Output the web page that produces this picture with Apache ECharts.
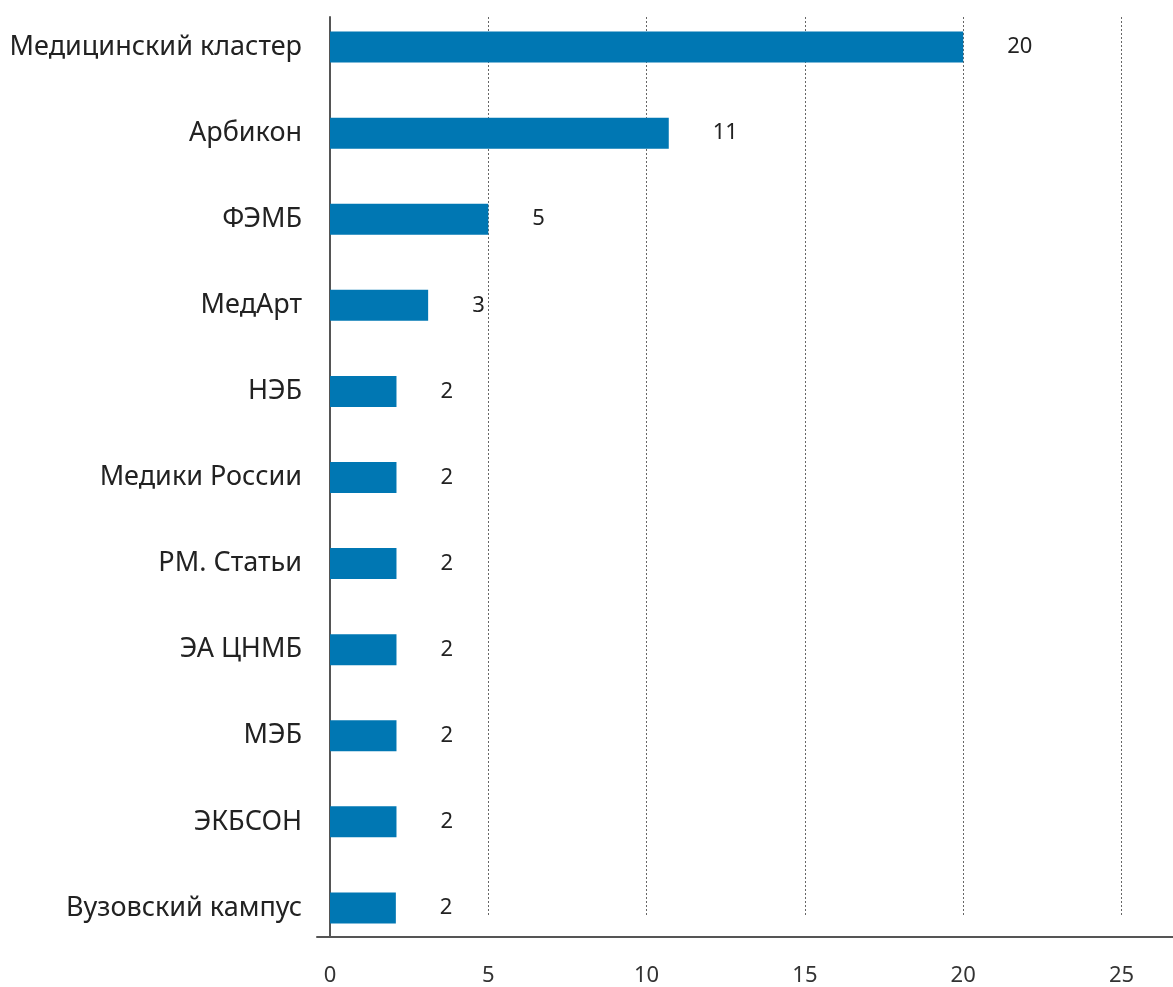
<!DOCTYPE html>
<html>
<head>
<meta charset="utf-8">
<script src="https://cdn.jsdelivr.net/npm/echarts@6/dist/echarts.min.js"></script>
<style>html,body{margin:0;padding:0;background:#fff}#c{width:1173px;height:987px}</style>
</head>
<body>
<div id="c"></div>
<script>
const categories = ['Медицинский кластер','Арбикон','ФЭМБ','МедАрт','НЭБ','Медики России','РМ. Статьи','ЭА ЦНМБ','МЭБ','ЭКБСОН','Вузовский кампус'];
const values = [20, 10.7, 5, 3.1, 2.1, 2.1, 2.1, 2.1, 2.1, 2.1, 2.08];
const tickMin = 0, tickMax = 25, tickStep = 5;

const chart = echarts.init(document.getElementById('c'));
const font = '"Noto Sans", sans-serif';
chart.setOption({
  animation: false,
  grid: [
    {left: 330, right: 51.5, top: 4, height: 947},      // bars
    {left: 330, right: 51.5, top: 17, height: 901},     // gridlines + tick labels
    {left: 317, right: 0, top: 17, height: 920}         // axis lines
  ],
  xAxis: [
    {gridIndex: 0, type: 'value', min: tickMin, max: tickMax, show: false},
    {gridIndex: 1, type: 'value', min: tickMin, max: tickMax, interval: tickStep,
     axisLine: {show: false}, axisTick: {show: false},
     axisLabel: {margin: 48, fontSize: 22, color: '#333', fontFamily: font},
     splitLine: {show: true, showMinLine: false, lineStyle: {type: [2, 2], color: '#666', width: 1}}},
    {gridIndex: 2, type: 'value', min: -0.41, max: 26.63,
     axisLine: {show: true, onZero: false, lineStyle: {color: '#555', width: 2}},
     axisTick: {show: false}, axisLabel: {show: false}, splitLine: {show: false}}
  ],
  yAxis: [
    {gridIndex: 0, type: 'category', data: categories, inverse: true,
     axisLine: {show: false}, axisTick: {show: false},
     axisLabel: {margin: 28, fontSize: 27, color: '#222', fontFamily: font, padding: [0, 0, 6, 0]}},
    {gridIndex: 1, type: 'value', show: false},
    {gridIndex: 2, type: 'value', min: 0, max: 1,
     axisLine: {show: true, onZero: true, lineStyle: {color: '#555', width: 2}},
     axisTick: {show: false}, axisLabel: {show: false}, splitLine: {show: false}}
  ],
  series: [{
    type: 'bar', xAxisIndex: 0, yAxisIndex: 0, data: values, barWidth: 31,
    itemStyle: {color: '#0077B3'},
    label: {show: true, position: 'right', distance: 44, fontSize: 22, color: '#222', fontFamily: font,
            formatter: p => Math.round(p.value)}
  }]
});
</script>
</body>
</html>
